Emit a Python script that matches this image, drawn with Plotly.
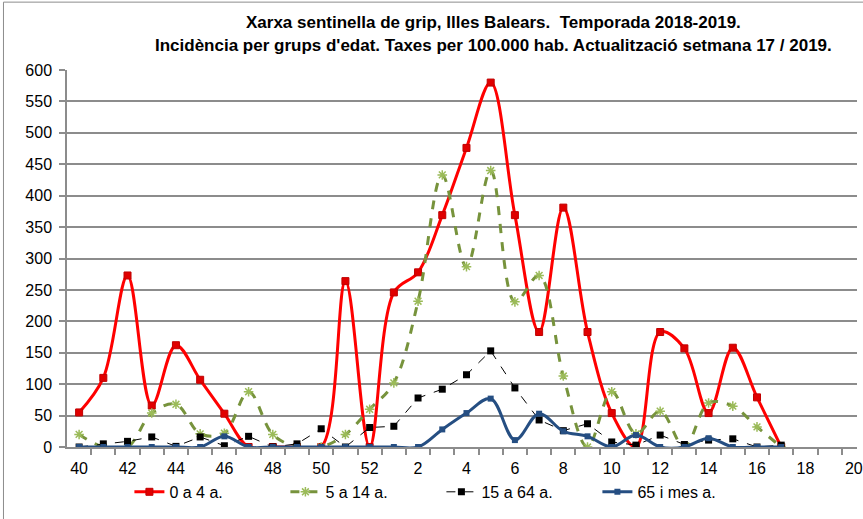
import plotly.graph_objects as go

weeks = ["40", "41", "42", "43", "44", "45", "46", "47", "48", "49", "50", "51", "52",
         "1", "2", "3", "4", "5", "6", "7", "8", "9", "10", "11", "12", "13", "14",
         "15", "16", "17", "18", "19", "20"]

age_0_4 = [55, 110, 273, 66, 162, 107, 53, 0, 0, 0, 0, 264, 0,
           246, 278, 369, 476, 580, 369, 183, 381, 183, 54, 0, 183, 157, 54,
           158, 79, 0]
age_5_14 = [20, 0, 0, 54, 68, 21, 22, 88, 20, 0, 0, 20, 60,
            102, 232, 433, 287, 440, 231, 273, 113, 0, 88, 21, 57, 0, 70,
            65, 32, 0]
age_15_64 = [0, 5, 9, 16, 1, 16, 2, 17, 0, 5, 29, 0, 31,
             33, 78, 92, 115, 153, 94, 43, 26, 37, 8, 3, 19, 4, 11,
             13, 0, 3]
age_65 = [0, 0, 0, 0, 0, 0, 17, 0, 0, 0, 0, 0, 0,
          0, 0, 28, 54, 77, 11, 53, 25, 17, 0, 19, 0, 0, 14,
          0, 0, 0]

series_names = ["0 a 4 a.", "5 a 14 a.", "15 a 64 a.", "65 i mes a."]
title_lines = ["Xarxa sentinella de grip, Illes Balears.  Temporada 2018-2019.",
               "Incidència per grups d'edat. Taxes per 100.000 hab. Actualització setmana 17 / 2019."]
y_ticks = list(range(0, 601, 50))

idx_all = list(range(len(weeks)))
x_data = idx_all[:len(age_0_4)]

fig = go.Figure()
fig.add_trace(go.Scatter(
    x=x_data, y=age_0_4, name=series_names[0], mode="lines+markers",
    line=dict(color="#FF0000", width=3, shape="spline", smoothing=1),
    marker=dict(symbol="square", size=7, color="#E00000", line=dict(color="#C00000", width=1))))
fig.add_trace(go.Scatter(
    x=x_data, y=age_5_14, name=series_names[1], mode="lines+markers",
    line=dict(color="#77933C", width=3, dash="dash", shape="spline", smoothing=1),
    marker=dict(symbol="asterisk-open", size=8, color="#9BBB59", line=dict(color="#9BBB59", width=1.5))))
fig.add_trace(go.Scatter(
    x=x_data, y=age_15_64, name=series_names[2], mode="lines+markers",
    line=dict(color="#000000", width=1, dash="dash"),
    marker=dict(symbol="square", size=7, color="#000000")))
fig.add_trace(go.Scatter(
    x=x_data, y=age_65, name=series_names[3], mode="lines+markers",
    line=dict(color="#254E82", width=3, shape="spline", smoothing=1),
    marker=dict(symbol="square", size=6, color="#254E82")))

tick_font = dict(family="Liberation Sans, Arial, sans-serif", size=16, color="#000000")

fig.update_layout(
    width=863, height=519,
    margin=dict(l=67, r=0, t=70, b=72),
    paper_bgcolor="white", plot_bgcolor="white",
    showlegend=True,
    legend=dict(orientation="h", x=0.079, xanchor="left", y=-0.074, yanchor="top",
                font=tick_font, entrywidth=111, bgcolor="rgba(0,0,0,0)"),
    xaxis=dict(
        range=[-0.5, 32.13],
        tickvals=idx_all[::2], ticktext=weeks[::2],
        ticks="", showgrid=False, zeroline=False,
        showline=True, linecolor="#8C8C8C", linewidth=1.5,
        tickfont=tick_font, ticklabeloverflow="allow", ticklabelstandoff=6,
        minor=dict(tickvals=[i + 0.5 for i in idx_all], ticks="outside", ticklen=6,
                   tickcolor="#8C8C8C", tickwidth=1.5, showgrid=False),
    ),
    yaxis=dict(
        range=[0, 600], tickvals=y_ticks,
        ticks="outside", ticklen=6, tickcolor="#8C8C8C", tickwidth=1.5,
        showgrid=True, gridcolor="#8C8C8C", gridwidth=1.5,
        zeroline=False, showline=True, linecolor="#8C8C8C", linewidth=1.5,
        tickfont=tick_font, ticklabelstandoff=4,
    ),
)

title_font = dict(family="Liberation Sans, Arial, sans-serif", size=17, color="#000000", weight="bold")
fig.add_annotation(text=title_lines[0], xref="paper", yref="paper", x=0.540, y=1.127,
                   xanchor="center", yanchor="middle", showarrow=False, font=title_font)
fig.add_annotation(text=title_lines[1], xref="paper", yref="paper", x=0.540, y=1.064,
                   xanchor="center", yanchor="middle", showarrow=False, font=title_font)

fig.add_shape(type="rect", xref="paper", yref="paper", x0=-0.0804, x1=1.05, y0=-0.25, y1=1.18,
              line=dict(color="#8C8C8C", width=1), fillcolor="rgba(0,0,0,0)", layer="below")

fig.write_html("out.html", config={"displayModeBar": False},
               post_script="document.body.style.margin='0px';")
